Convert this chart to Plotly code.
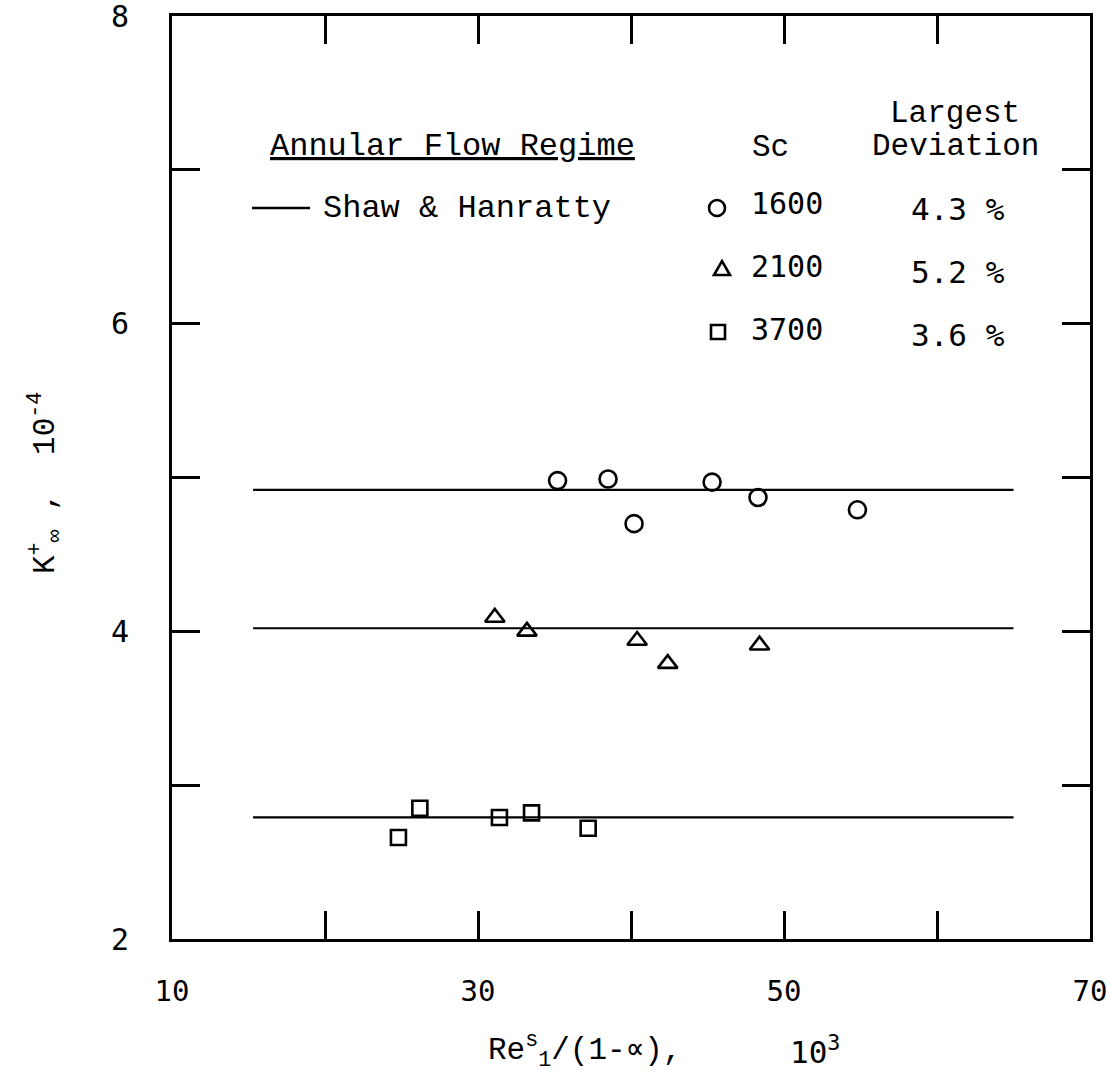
import plotly.graph_objects as go

# Mass-transfer data in annular flow, grouped by Schmidt number
sc_1600_x = [35.2, 38.5, 40.2, 45.3, 48.3, 54.8]
sc_1600_y = [4.98, 4.99, 4.70, 4.97, 4.87, 4.79]

sc_2100_x = [31.1, 33.2, 40.4, 42.4, 48.4]
sc_2100_y = [4.09, 4.00, 3.94, 3.79, 3.91]

sc_3700_x = [24.8, 26.2, 31.4, 33.5, 37.2]
sc_3700_y = [2.66, 2.85, 2.79, 2.82, 2.72]

# Shaw & Hanratty correlation level for each Sc, drawn over this Re range
shaw_levels = [4.92, 4.02, 2.79]
shaw_x = [15.3, 65.0]

sc_labels = ["1600", "2100", "3700"]
deviation_labels = ["4.3 %", "5.2 %", "3.6 %"]

x_labelled = [10, 30, 50, 70]
x_minor = [20, 40, 60]
y_labelled = [2, 4, 6, 8]
y_minor = [3, 5, 7]

W, H = 1109, 1078
ML, MR, MT, MB = 172, 19, 16, 139
PW, PH = W - ML - MR, H - MT - MB

TYPE = "Liberation Mono, Courier New, monospace"
DIGITS = "DejaVu Sans Mono, monospace"


def px(x):
    return (x - ML) / PW


def py(y):
    return (H - MB - y) / PH


fig = go.Figure()

for lvl in shaw_levels:
    fig.add_trace(go.Scatter(
        x=shaw_x, y=[lvl, lvl], mode="lines",
        line=dict(color="black", width=2.2), showlegend=False, hoverinfo="skip"))

mk_line = dict(color="black", width=2.6)
fig.add_trace(go.Scatter(x=sc_1600_x, y=sc_1600_y, mode="markers", showlegend=False,
                         marker=dict(symbol="circle-open", size=17, color="black", line=mk_line)))
fig.add_trace(go.Scatter(x=sc_2100_x, y=sc_2100_y, mode="markers", showlegend=False,
                         marker=dict(symbol="triangle-up-open", size=17, color="black", line=mk_line)))
fig.add_trace(go.Scatter(x=sc_3700_x, y=sc_3700_y, mode="markers", showlegend=False,
                         marker=dict(symbol="square-open", size=15, color="black", line=mk_line)))

annotations = []


def text(s, x, y, size=31, family=TYPE, anchor="center", **kw):
    annotations.append(dict(text=s, x=px(x), y=py(y), xref="paper", yref="paper",
                            showarrow=False, xanchor=anchor, yanchor="middle",
                            font=dict(family=family, size=size, color="black"), **kw))


# Legend block
text("<u>Annular Flow Regime</u>", 452, 146, size=32)
text("Shaw & Hanratty", 467, 208, size=32)
text("Sc", 770, 147, size=31)
text("Largest", 955, 113, size=31)
text("Deviation", 955, 146, size=31)
rows_y = [203, 266, 329]
for lab, dev, ry in zip(sc_labels, deviation_labels, rows_y):
    text(lab, 787, ry, size=30, family=DIGITS)
    text(dev, 958, ry + 6, size=31, family=DIGITS)

# Axis titles
text("Re<sup>s</sup><sub>1</sub>/(1-∝),", 486, 1050, size=31, anchor="left")
text("10<sup>3</sup>", 842, 1050, size=31, family=DIGITS, anchor="right")
text("K<sup>+</sup><sub>∞</sub> ,  10<sup>-4</sup>", 45, 483, size=31, textangle=-90)

shapes = [
    # legend line sample
    dict(type="line", xref="paper", yref="paper", x0=px(252), x1=px(310),
         y0=py(208), y1=py(208), line=dict(color="black", width=2.5)),
]
# legend symbols
sym_line = dict(color="black", width=2.6)
shapes.append(dict(type="circle", xref="paper", yref="paper", xsizemode="pixel", ysizemode="pixel",
                   xanchor=px(717), yanchor=py(208), x0=-8, x1=8, y0=-8, y1=8, line=sym_line))
shapes.append(dict(type="path", xref="paper", yref="paper", xsizemode="pixel", ysizemode="pixel",
                   xanchor=px(722), yanchor=py(269), path="M -8,-6 L 8,-6 L 0,8 Z", line=sym_line))
shapes.append(dict(type="rect", xref="paper", yref="paper", xsizemode="pixel", ysizemode="pixel",
                   xanchor=px(718), yanchor=py(332), x0=-7, x1=7, y0=-7, y1=7, line=sym_line))

tick_style = dict(ticks="inside", ticklen=28, tickwidth=3, tickcolor="black")
axis_common = dict(showgrid=False, zeroline=False, showline=True, linewidth=3, linecolor="black",
                   mirror="ticks", ticklabeloverflow="allow", automargin=False, **tick_style)

fig.update_layout(
    width=W, height=H,
    margin=dict(l=ML, r=MR, t=MT, b=MB, autoexpand=False),
    paper_bgcolor="white", plot_bgcolor="white",
    annotations=annotations, shapes=shapes,
    xaxis=dict(range=[10, 70.0001], tickvals=x_labelled,
               minor=dict(tickvals=x_minor, showgrid=False, **tick_style),
               ticklabelstandoff=24, tickfont=dict(family=DIGITS, size=29, color="black"),
               **axis_common),
    yaxis=dict(range=[2, 8.0001], tickvals=y_labelled,
               minor=dict(tickvals=y_minor, showgrid=False, **tick_style),
               ticklabelstandoff=34, tickfont=dict(family=DIGITS, size=30, color="black"),
               **axis_common),
)

fig.write_html("out.html")
